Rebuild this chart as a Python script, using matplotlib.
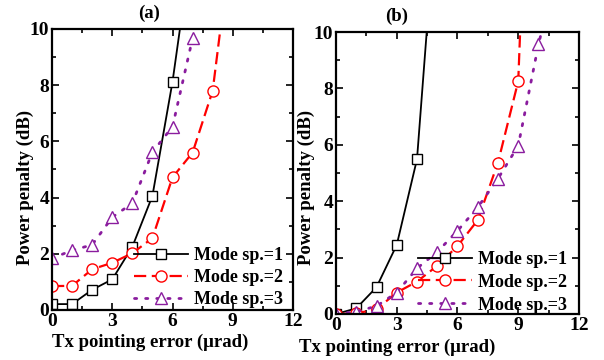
import numpy as np
import matplotlib
matplotlib.use("Agg")
import matplotlib.pyplot as plt
from matplotlib.ticker import MultipleLocator

plt.rcParams['font.family'] = ['Liberation Serif', 'DejaVu Serif']
plt.rcParams['font.weight'] = 'bold'

# panel (a)
xa1 = [0, 1, 2, 3, 4, 5, 6, 7]
ya1 = [0.21, 0.21, 0.72, 1.09, 2.25, 4.06, 8.12, 13.2]
xa2 = [0, 1, 2, 3, 4, 5, 6, 7, 8, 9]
ya2 = [0.85, 0.86, 1.45, 1.68, 2.02, 2.56, 4.72, 5.6, 7.8, 13.5]
xa3 = [0, 1, 2, 3, 4, 5, 6, 7, 8]
ya3 = [1.84, 2.12, 2.32, 3.3, 3.8, 5.62, 6.52, 9.67, 14.0]

# panel (b)
xb1 = [0, 1, 2, 3, 4, 5]
yb1 = [0.0, 0.2, 0.95, 2.45, 5.49, 14.9]
xb2 = [0, 1, 2, 3, 4, 5, 6, 7, 8, 9, 10]
yb2 = [0.0, 0.02, 0.17, 0.76, 1.15, 1.71, 2.41, 3.33, 5.37, 8.26, 27.0]
xb3 = [0, 1, 2, 3, 4, 5, 6, 7, 8, 9, 10, 11]
yb3 = [0.0, 0.08, 0.28, 0.76, 1.62, 2.2, 2.95, 3.78, 4.8, 5.97, 9.56, 12.5]

labels = ['Mode sp.=1', 'Mode sp.=2', 'Mode sp.=3']
purple = '#8a1c9e'

fig = plt.figure(figsize=(6.04, 3.6), dpi=100)
axa = fig.add_axes([0.0861, 0.1389, 0.399, 0.7806])
axb = fig.add_axes([0.5563, 0.1278, 0.4023, 0.7833])

def draw(ax, data):
    (x1, y1), (x2, y2), (x3, y3) = data
    ax.plot(x1, y1, color='black', lw=1.3, marker='s', ms=7, mfc='white',
            mec='black', mew=1.0, label=labels[0])
    ax.plot(x2, y2, color='red', lw=1.6, dashes=(5.5, 2.5), marker='o', ms=8,
            mfc='white', mec='red', mew=1.0, label=labels[1])
    ax.plot(x3, y3, color=purple, lw=2.0, dashes=(0.8, 3.2), dash_capstyle='round',
            marker='^', ms=8.5, mfc='white', mec=purple, mew=1.0, label=labels[2])
    ax.set_xlim(0, 12)
    ax.set_ylim(0, 10)
    ax.xaxis.set_major_locator(MultipleLocator(3))
    ax.xaxis.set_minor_locator(MultipleLocator(1.5))
    ax.yaxis.set_major_locator(MultipleLocator(2))
    ax.yaxis.set_minor_locator(MultipleLocator(1))
    ax.tick_params(which='both', direction='in', top=True, right=True, width=1.2)
    ax.tick_params(which='major', length=5, labelsize=14, pad=2)
    ax.tick_params(which='minor', length=3)
    for s in ax.spines.values():
        s.set_linewidth(1.6)
    for lab in ax.get_xticklabels() + ax.get_yticklabels():
        lab.set_fontweight('bold')

draw(axa, [(xa1, ya1), (xa2, ya2), (xa3, ya3)])
draw(axb, [(xb1, yb1), (xb2, yb2), (xb3, yb3)])

axa.legend(loc='lower right', bbox_to_anchor=(1.025, -0.052), frameon=False,
           handlelength=3.0, handletextpad=0.3, labelspacing=0.28,
           prop={'size': 13, 'weight': 'bold'})
axb.legend(loc='lower right', bbox_to_anchor=(1.017, -0.056), frameon=False,
           handlelength=3.0, handletextpad=0.3, labelspacing=0.32,
           prop={'size': 13, 'weight': 'bold'})

fig.text(149/604, 1 - 13/360, '(a)', ha='center', va='center', fontsize=13.5, fontweight='bold')
fig.text(397/604, 1 - 16/360, '(b)', ha='center', va='center', fontsize=13.5, fontweight='bold')
fig.text(150/604, 1 - 342/360, 'Tx pointing error (μrad)', ha='center', va='center',
         fontsize=13.5, fontweight='bold')
fig.text(397/604, 1 - 347/360, 'Tx pointing error (μrad)', ha='center', va='center',
         fontsize=13.5, fontweight='bold')
fig.text(25/604, 1 - 187/360, 'Power penalty (dB)', ha='center', va='center',
         rotation=90, fontsize=13.5, fontweight='bold')
fig.text(306/604, 1 - 187/360, 'Power penalty (dB)', ha='center', va='center',
         rotation=90, fontsize=13.5, fontweight='bold')

fig.savefig('out.png', dpi=100)
